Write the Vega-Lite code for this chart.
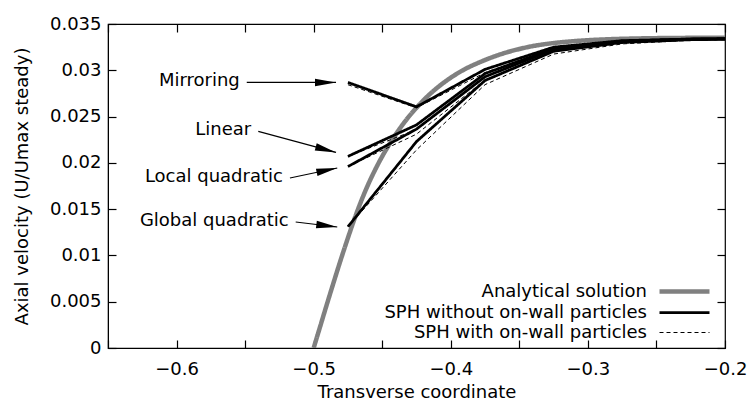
{
  "$schema": "https://vega.github.io/schema/vega-lite/v6.json",
  "width": 617,
  "height": 324,
  "autosize": "none",
  "padding": {"left": 108, "top": 24, "right": 22, "bottom": 55},
  "config": {
    "font": "DejaVu Sans",
    "view": {"stroke": "black", "strokeWidth": 1.2},
    "axis": {
      "grid": false,
      "domainColor": "black",
      "tickColor": "black",
      "labelColor": "black",
      "titleColor": "black",
      "labelFontSize": 18,
      "titleFontSize": 18,
      "titleFontWeight": "normal",
      "tickSize": -8,
      "tickWidth": 1.2,
      "labelFlush": false,
      "labelOverlap": false
    },
    "legend": {
      "orient": "bottom-right",
      "title": null,
      "symbolType": "M-2.5,0H2.5",
      "symbolSize": 400,
      "labelAlign": "right",
      "labelOffset": -50,
      "labelFontSize": 18,
      "labelColor": "black",
      "rowPadding": 0,
      "padding": 0,
      "offset": 6,
      "labelLimit": 400
    }
  },
  "datasets": {
    "analytic": [
      {"variant": "Analytical solution", "x": -0.5, "y": 0},
      {"variant": "Analytical solution", "x": -0.495, "y": 0.00245},
      {"variant": "Analytical solution", "x": -0.49, "y": 0.0049},
      {"variant": "Analytical solution", "x": -0.485, "y": 0.0073},
      {"variant": "Analytical solution", "x": -0.48, "y": 0.00965},
      {"variant": "Analytical solution", "x": -0.475, "y": 0.0119},
      {"variant": "Analytical solution", "x": -0.47, "y": 0.01405},
      {"variant": "Analytical solution", "x": -0.465, "y": 0.016},
      {"variant": "Analytical solution", "x": -0.46, "y": 0.01775},
      {"variant": "Analytical solution", "x": -0.455, "y": 0.0193},
      {"variant": "Analytical solution", "x": -0.45, "y": 0.0207},
      {"variant": "Analytical solution", "x": -0.445, "y": 0.02195},
      {"variant": "Analytical solution", "x": -0.44, "y": 0.0231},
      {"variant": "Analytical solution", "x": -0.435, "y": 0.02415},
      {"variant": "Analytical solution", "x": -0.43, "y": 0.0251},
      {"variant": "Analytical solution", "x": -0.425, "y": 0.02595},
      {"variant": "Analytical solution", "x": -0.42, "y": 0.02675},
      {"variant": "Analytical solution", "x": -0.41, "y": 0.0281},
      {"variant": "Analytical solution", "x": -0.4, "y": 0.0292},
      {"variant": "Analytical solution", "x": -0.39, "y": 0.0301},
      {"variant": "Analytical solution", "x": -0.38, "y": 0.0308},
      {"variant": "Analytical solution", "x": -0.37, "y": 0.0314},
      {"variant": "Analytical solution", "x": -0.36, "y": 0.0319},
      {"variant": "Analytical solution", "x": -0.35, "y": 0.0323},
      {"variant": "Analytical solution", "x": -0.34, "y": 0.03262},
      {"variant": "Analytical solution", "x": -0.33, "y": 0.03285},
      {"variant": "Analytical solution", "x": -0.32, "y": 0.03302},
      {"variant": "Analytical solution", "x": -0.3, "y": 0.03325},
      {"variant": "Analytical solution", "x": -0.28, "y": 0.03338},
      {"variant": "Analytical solution", "x": -0.26, "y": 0.03345},
      {"variant": "Analytical solution", "x": -0.23, "y": 0.0335},
      {"variant": "Analytical solution", "x": -0.2, "y": 0.03352}
    ],
    "sph": [
      {"method": "Mirroring", "variant": "SPH without on-wall particles", "x": -0.475, "y": 0.02869},
      {"method": "Mirroring", "variant": "SPH without on-wall particles", "x": -0.425, "y": 0.02605},
      {"method": "Mirroring", "variant": "SPH without on-wall particles", "x": -0.375, "y": 0.0301},
      {"method": "Mirroring", "variant": "SPH without on-wall particles", "x": -0.325, "y": 0.0325},
      {"method": "Mirroring", "variant": "SPH without on-wall particles", "x": -0.275, "y": 0.0332},
      {"method": "Mirroring", "variant": "SPH without on-wall particles", "x": -0.225, "y": 0.03338},
      {"method": "Mirroring", "variant": "SPH without on-wall particles", "x": -0.175, "y": 0.03345},
      {"method": "Mirroring", "variant": "SPH with on-wall particles", "x": -0.475, "y": 0.02844},
      {"method": "Mirroring", "variant": "SPH with on-wall particles", "x": -0.425, "y": 0.02595},
      {"method": "Mirroring", "variant": "SPH with on-wall particles", "x": -0.375, "y": 0.02975},
      {"method": "Mirroring", "variant": "SPH with on-wall particles", "x": -0.325, "y": 0.03235},
      {"method": "Mirroring", "variant": "SPH with on-wall particles", "x": -0.275, "y": 0.03312},
      {"method": "Mirroring", "variant": "SPH with on-wall particles", "x": -0.225, "y": 0.03335},
      {"method": "Mirroring", "variant": "SPH with on-wall particles", "x": -0.175, "y": 0.03343},
      {"method": "Linear", "variant": "SPH without on-wall particles", "x": -0.475, "y": 0.0207},
      {"method": "Linear", "variant": "SPH without on-wall particles", "x": -0.425, "y": 0.0241},
      {"method": "Linear", "variant": "SPH without on-wall particles", "x": -0.375, "y": 0.02965},
      {"method": "Linear", "variant": "SPH without on-wall particles", "x": -0.325, "y": 0.03235},
      {"method": "Linear", "variant": "SPH without on-wall particles", "x": -0.275, "y": 0.03315},
      {"method": "Linear", "variant": "SPH without on-wall particles", "x": -0.225, "y": 0.03337},
      {"method": "Linear", "variant": "SPH without on-wall particles", "x": -0.175, "y": 0.03344},
      {"method": "Linear", "variant": "SPH with on-wall particles", "x": -0.475, "y": 0.0207},
      {"method": "Linear", "variant": "SPH with on-wall particles", "x": -0.425, "y": 0.0236},
      {"method": "Linear", "variant": "SPH with on-wall particles", "x": -0.375, "y": 0.02935},
      {"method": "Linear", "variant": "SPH with on-wall particles", "x": -0.325, "y": 0.0322},
      {"method": "Linear", "variant": "SPH with on-wall particles", "x": -0.275, "y": 0.03305},
      {"method": "Linear", "variant": "SPH with on-wall particles", "x": -0.225, "y": 0.03333},
      {"method": "Linear", "variant": "SPH with on-wall particles", "x": -0.175, "y": 0.03342},
      {"method": "Local quadratic", "variant": "SPH without on-wall particles", "x": -0.475, "y": 0.0196},
      {"method": "Local quadratic", "variant": "SPH without on-wall particles", "x": -0.425, "y": 0.02365},
      {"method": "Local quadratic", "variant": "SPH without on-wall particles", "x": -0.375, "y": 0.0293},
      {"method": "Local quadratic", "variant": "SPH without on-wall particles", "x": -0.325, "y": 0.03225},
      {"method": "Local quadratic", "variant": "SPH without on-wall particles", "x": -0.275, "y": 0.0331},
      {"method": "Local quadratic", "variant": "SPH without on-wall particles", "x": -0.225, "y": 0.03335},
      {"method": "Local quadratic", "variant": "SPH without on-wall particles", "x": -0.175, "y": 0.03343},
      {"method": "Local quadratic", "variant": "SPH with on-wall particles", "x": -0.475, "y": 0.0196},
      {"method": "Local quadratic", "variant": "SPH with on-wall particles", "x": -0.425, "y": 0.0231},
      {"method": "Local quadratic", "variant": "SPH with on-wall particles", "x": -0.375, "y": 0.02895},
      {"method": "Local quadratic", "variant": "SPH with on-wall particles", "x": -0.325, "y": 0.03205},
      {"method": "Local quadratic", "variant": "SPH with on-wall particles", "x": -0.275, "y": 0.033},
      {"method": "Local quadratic", "variant": "SPH with on-wall particles", "x": -0.225, "y": 0.0333},
      {"method": "Local quadratic", "variant": "SPH with on-wall particles", "x": -0.175, "y": 0.03341},
      {"method": "Global quadratic", "variant": "SPH without on-wall particles", "x": -0.475, "y": 0.0131},
      {"method": "Global quadratic", "variant": "SPH without on-wall particles", "x": -0.425, "y": 0.0223},
      {"method": "Global quadratic", "variant": "SPH without on-wall particles", "x": -0.375, "y": 0.0289},
      {"method": "Global quadratic", "variant": "SPH without on-wall particles", "x": -0.325, "y": 0.03205},
      {"method": "Global quadratic", "variant": "SPH without on-wall particles", "x": -0.275, "y": 0.033},
      {"method": "Global quadratic", "variant": "SPH without on-wall particles", "x": -0.225, "y": 0.0333},
      {"method": "Global quadratic", "variant": "SPH without on-wall particles", "x": -0.175, "y": 0.0334},
      {"method": "Global quadratic", "variant": "SPH with on-wall particles", "x": -0.475, "y": 0.0131},
      {"method": "Global quadratic", "variant": "SPH with on-wall particles", "x": -0.425, "y": 0.0214},
      {"method": "Global quadratic", "variant": "SPH with on-wall particles", "x": -0.375, "y": 0.02845},
      {"method": "Global quadratic", "variant": "SPH with on-wall particles", "x": -0.325, "y": 0.03175},
      {"method": "Global quadratic", "variant": "SPH with on-wall particles", "x": -0.275, "y": 0.03285},
      {"method": "Global quadratic", "variant": "SPH with on-wall particles", "x": -0.225, "y": 0.03325},
      {"method": "Global quadratic", "variant": "SPH with on-wall particles", "x": -0.175, "y": 0.03338}
    ],
    "notes": [
      {"label": "Mirroring", "x1": -0.5488, "y1": 0.02869, "x2": -0.4837, "y2": 0.02869},
      {"label": "Linear", "x1": -0.5404, "y1": 0.0234, "x2": -0.4837, "y2": 0.02113},
      {"label": "Local quadratic", "x1": -0.5173, "y1": 0.01836, "x2": -0.4828, "y2": 0.01944},
      {"label": "Global quadratic", "x1": -0.5131, "y1": 0.01361, "x2": -0.4828, "y2": 0.01307}
    ]
  },
  "layer": [
    {
      "data": {"name": "analytic"},
      "mark": {"type": "line", "interpolate": "monotone", "clip": true},
      "encoding": {
        "x": {
          "field": "x", "type": "quantitative",
          "scale": {"domain": [-0.65, -0.2], "nice": false, "zero": false},
          "axis": {
            "orient": "bottom",
            "title": "Transverse coordinate",
            "values": [-0.65, -0.6, -0.55, -0.5, -0.45, -0.4, -0.35, -0.3, -0.25, -0.2],
            "labelExpr": "abs(datum.value*10 - round(datum.value*10)) < 0.000001 ? format(datum.value, '.1f') : ''",
            "labelPadding": 20,
            "titlePadding": 5
          }
        },
        "y": {
          "field": "y", "type": "quantitative",
          "scale": {"domain": [0, 0.035], "nice": false, "zero": false},
          "axis": {
            "orient": "left",
            "title": "Axial velocity (U/Umax steady)",
            "values": [0, 0.005, 0.01, 0.015, 0.02, 0.025, 0.03, 0.035],
            "format": ".3~f",
            "labelPadding": 15,
            "titlePadding": 18
          }
        },
        "color": {
          "field": "variant", "type": "nominal",
          "scale": {"domain": ["Analytical solution", "SPH without on-wall particles", "SPH with on-wall particles"], "range": ["#808080", "#000000", "#000000"]}
        },
        "strokeDash": {
          "field": "variant", "type": "nominal",
          "scale": {"domain": ["Analytical solution", "SPH without on-wall particles", "SPH with on-wall particles"], "range": [[1, 0], [1, 0], [4, 3]]}
        },
        "strokeWidth": {
          "field": "variant", "type": "nominal",
          "scale": {"domain": ["Analytical solution", "SPH without on-wall particles", "SPH with on-wall particles"], "range": [4.5, 1, 1]}
        }
      }
    },
    {
      "data": {"name": "sph"},
      "mark": {"type": "line", "clip": true},
      "encoding": {
        "x": {"field": "x", "type": "quantitative", "axis": null},
        "y": {"field": "y", "type": "quantitative", "axis": null},
        "detail": [{"field": "method"}, {"field": "variant"}],
        "color": {"field": "variant", "type": "nominal"},
        "strokeDash": {"field": "variant", "type": "nominal"},
        "strokeWidth": {"field": "variant", "type": "nominal"}
      }
    },
    {
      "data": {"name": "notes"},
      "mark": {"type": "rule", "color": "black", "strokeWidth": 1.1},
      "encoding": {
        "x": {"field": "x1", "type": "quantitative", "axis": null},
        "y": {"field": "y1", "type": "quantitative", "axis": null},
        "x2": {"field": "x2"},
        "y2": {"field": "y2"}
      }
    },
    {
      "data": {"name": "notes"},
      "mark": {"type": "text", "align": "right", "baseline": "middle", "dx": -7, "dy": -1, "fontSize": 18, "color": "black"},
      "encoding": {
        "x": {"field": "x1", "type": "quantitative", "axis": null},
        "y": {"field": "y1", "type": "quantitative", "axis": null},
        "text": {"field": "label"}
      }
    },
    {
      "data": {"name": "notes"},
      "transform": [{"filter": "datum.label == 'Mirroring'"}],
      "mark": {"type": "point", "shape": "M0,0L-2,-0.36L-2,0.36Z", "filled": true, "size": 441, "color": "black", "opacity": 1, "angle": 0},
      "encoding": {
        "x": {"field": "x2", "type": "quantitative", "axis": null},
        "y": {"field": "y2", "type": "quantitative", "axis": null}
      }
    },
    {
      "data": {"name": "notes"},
      "transform": [{"filter": "datum.label == 'Linear'"}],
      "mark": {"type": "point", "shape": "M0,0L-2,-0.36L-2,0.36Z", "filled": true, "size": 441, "color": "black", "opacity": 1, "angle": 15.1},
      "encoding": {
        "x": {"field": "x2", "type": "quantitative", "axis": null},
        "y": {"field": "y2", "type": "quantitative", "axis": null}
      }
    },
    {
      "data": {"name": "notes"},
      "transform": [{"filter": "datum.label == 'Local quadratic'"}],
      "mark": {"type": "point", "shape": "M0,0L-2,-0.36L-2,0.36Z", "filled": true, "size": 441, "color": "black", "opacity": 1, "angle": -11.9},
      "encoding": {
        "x": {"field": "x2", "type": "quantitative", "axis": null},
        "y": {"field": "y2", "type": "quantitative", "axis": null}
      }
    },
    {
      "data": {"name": "notes"},
      "transform": [{"filter": "datum.label == 'Global quadratic'"}],
      "mark": {"type": "point", "shape": "M0,0L-2,-0.36L-2,0.36Z", "filled": true, "size": 441, "color": "black", "opacity": 1, "angle": 6.9},
      "encoding": {
        "x": {"field": "x2", "type": "quantitative", "axis": null},
        "y": {"field": "y2", "type": "quantitative", "axis": null}
      }
    },
    {
      "data": {"name": "analytic"},
      "mark": {"type": "rule", "opacity": 0},
      "encoding": {
        "x": {
          "field": "x", "type": "quantitative",
          "axis": {"orient": "top", "title": null, "labels": false, "domain": false,
            "values": [-0.65, -0.6, -0.55, -0.5, -0.45, -0.4, -0.35, -0.3, -0.25, -0.2]}
        },
        "y": {
          "field": "y", "type": "quantitative",
          "axis": {"orient": "right", "title": null, "labels": false, "domain": false,
            "values": [0, 0.005, 0.01, 0.015, 0.02, 0.025, 0.03, 0.035]}
        }
      }
    }
  ],
  "resolve": {"axis": {"x": "independent", "y": "independent"}}
}
